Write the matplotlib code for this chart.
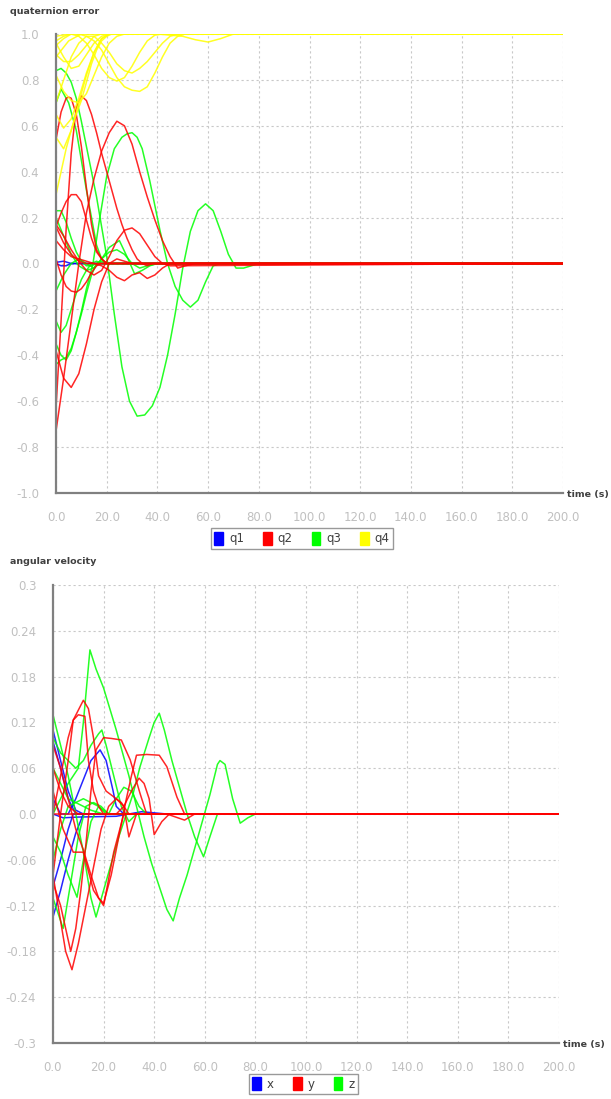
import matplotlib
matplotlib.use("Agg")
import matplotlib.pyplot as plt
from matplotlib.patches import Patch

# quaternion error runs: each curve is (times, values)
q1_t = [[0, 2, 4, 6, 200], [0, 3, 6, 200]]
q1_v = [[0.0, -0.01, -0.01, 0.0, 0.0], [0.005, 0.01, 0.0, 0.0]]

q2_t = [
    [0, 2, 4, 5, 6, 8, 10, 12, 14, 16, 18, 20, 200],
    [0, 2, 4, 6, 8, 10, 12, 14, 16, 18, 20, 22, 24, 26, 28, 30, 32, 34, 36, 38, 200],
    [0, 3, 6, 9, 12, 15, 18, 21, 24, 27, 30, 33, 36, 39, 42, 45, 48, 51, 55, 200],
    [0, 3, 6, 9, 12, 15, 18, 21, 24, 27, 30, 200],
    [0, 2, 4, 6, 8, 10, 12, 14, 16, 18, 20, 200],
    [0, 3, 6, 9, 12, 15, 18, 21, 24, 27, 30, 33, 36, 39, 42, 45, 200],
    [0, 2, 4, 6, 8, 10, 12, 14, 16, 18, 20, 200],
    [0, 3, 6, 9, 12, 15, 18, 21, 24, 27, 30, 33, 36, 39, 42, 45, 200],
    [0, 3, 6, 9, 12, 200],
]
q2_v = [
    [0.54, 0.66, 0.72, 0.725, 0.72, 0.65, 0.51, 0.33, 0.17, 0.06, 0.02, 0.0, 0.0],
    [-0.63, -0.25, 0.15, 0.48, 0.68, 0.73, 0.71, 0.65, 0.57, 0.48, 0.40, 0.32, 0.24, 0.17, 0.11, 0.06, 0.02, 0.0, -0.01, 0.0, 0.0],
    [-0.73, -0.50, -0.25, 0.0, 0.22, 0.37, 0.49, 0.57, 0.62, 0.60, 0.52, 0.40, 0.29, 0.19, 0.10, 0.03, -0.02, -0.01, 0.0, 0.0],
    [-0.38, -0.50, -0.54, -0.48, -0.35, -0.20, -0.08, 0.0, 0.02, 0.01, 0.0, 0.0],
    [0.16, 0.22, 0.27, 0.30, 0.30, 0.27, 0.19, 0.11, 0.05, 0.02, 0.0, 0.0],
    [0.17, 0.12, 0.06, 0.01, -0.03, -0.05, -0.03, 0.03, 0.10, 0.145, 0.155, 0.13, 0.08, 0.03, 0.0, -0.01, 0.0],
    [0.02, -0.05, -0.10, -0.12, -0.125, -0.11, -0.08, -0.04, -0.01, 0.0, 0.0, 0.0],
    [0.10, 0.06, 0.03, 0.02, 0.01, 0.0, -0.01, -0.03, -0.06, -0.075, -0.05, -0.04, -0.065, -0.05, -0.02, 0.0, 0.0],
    [0.16, 0.09, 0.04, 0.01, 0.0, 0.0],
]

q3_t = [
    [0, 2, 4, 6, 8, 10, 12, 14, 16, 18, 20, 23, 26, 29, 32, 35, 38, 41, 44, 47, 50, 53, 56, 59, 62, 65, 68, 71, 74, 77, 80, 200],
    [0, 2, 4, 6, 8, 10, 12, 14.6, 17, 20, 23, 26, 28, 30, 32, 34, 37, 41, 44, 47, 50, 53, 56, 59, 62, 65, 200],
    [0, 2, 3, 5, 8, 10, 12, 14, 16, 18, 20, 200],
    [0, 2, 4, 6, 8, 10, 12, 14, 16, 200],
    [0, 3, 6, 9, 12, 15, 18, 21, 24, 27, 30, 33, 36, 40, 200],
    [0, 3, 6, 9, 12, 15, 18, 21, 25, 28, 31, 34, 37, 40, 200],
    [0, 2, 4, 6, 8, 10, 12, 14, 16, 18, 200],
    [0, 2, 4, 6, 8, 10, 12, 14, 16, 18, 20, 200],
]
q3_v = [
    [0.84, 0.85, 0.83, 0.79, 0.72, 0.62, 0.51, 0.40, 0.29, 0.16, 0.03, -0.22, -0.45, -0.60, -0.665, -0.66, -0.62, -0.54, -0.40, -0.22, -0.02, 0.14, 0.23, 0.26, 0.23, 0.14, 0.04, -0.02, -0.02, -0.01, 0.0, 0.0],
    [-0.35, -0.40, -0.42, -0.38, -0.30, -0.21, -0.11, 0.0, 0.18, 0.38, 0.50, 0.55, 0.565, 0.57, 0.55, 0.50, 0.36, 0.145, 0.0, -0.10, -0.16, -0.19, -0.16, -0.08, -0.01, 0.0, 0.0],
    [0.70, 0.76, 0.74, 0.70, 0.58, 0.45, 0.32, 0.20, 0.08, 0.02, 0.0, 0.0],
    [0.23, 0.23, 0.18, 0.11, 0.05, 0.01, -0.01, -0.01, 0.0, 0.0],
    [0.20, 0.12, 0.04, -0.01, -0.03, -0.02, 0.02, 0.05, 0.06, 0.04, 0.0, -0.02, -0.01, 0.0, 0.0],
    [-0.12, -0.05, 0.0, 0.02, 0.0, -0.02, 0.02, 0.07, 0.10, 0.03, -0.045, -0.03, -0.01, 0.0, 0.0],
    [-0.25, -0.30, -0.27, -0.20, -0.13, -0.07, -0.03, 0.0, 0.01, 0.0, 0.0],
    [-0.44, -0.42, -0.41, -0.37, -0.30, -0.22, -0.13, -0.05, 0.0, 0.01, 0.0, 0.0],
]

q4_t = [
    [0, 5, 200],
    [0, 3, 6, 9, 12, 15, 18, 21, 24, 27, 30, 33, 36, 39, 42, 45, 48, 51, 200],
    [0, 3, 6, 9, 12, 15, 18, 21, 24, 27, 30, 33, 36, 39, 42, 200],
    [0, 3, 6, 9, 12, 15, 18, 21, 24, 27, 30, 33, 36, 39, 42, 45, 48, 200],
    [0, 3, 6, 9, 12, 15, 18, 200],
    [0, 3, 6, 9, 12, 15, 18, 21, 200],
    [0, 2, 4, 6, 8, 10, 12, 14, 16, 18, 20, 22, 200],
    [0, 3, 6, 9, 12, 15, 18, 21, 200],
    [0, 3, 6, 9, 12, 15, 18, 21, 200],
    [0, 3, 6, 9, 12, 15, 18, 21, 24, 27, 200],
    [0, 5, 10, 40, 50, 55, 60, 65, 70, 200],
]
q4_v = [
    [0.99, 1.0, 1.0],
    [0.97, 0.99, 1.0, 1.0, 0.99, 0.97, 0.93, 0.87, 0.81, 0.77, 0.755, 0.75, 0.77, 0.83, 0.90, 0.96, 0.99, 1.0, 1.0],
    [0.95, 0.98, 1.0, 0.99, 0.96, 0.91, 0.85, 0.81, 0.795, 0.81, 0.86, 0.92, 0.97, 0.995, 1.0, 1.0],
    [0.70, 0.80, 0.90, 0.96, 0.99, 0.99, 0.96, 0.92, 0.87, 0.84, 0.83, 0.85, 0.88, 0.92, 0.96, 0.99, 1.0, 1.0],
    [0.91, 0.88, 0.88, 0.91, 0.95, 0.99, 1.0, 1.0],
    [0.96, 0.90, 0.85, 0.86, 0.91, 0.96, 0.99, 1.0, 1.0],
    [0.30, 0.40, 0.50, 0.58, 0.65, 0.71, 0.79, 0.87, 0.93, 0.97, 0.99, 1.0, 1.0],
    [0.55, 0.50, 0.58, 0.70, 0.82, 0.92, 0.98, 1.0, 1.0],
    [0.65, 0.59, 0.63, 0.72, 0.83, 0.92, 0.98, 1.0, 1.0],
    [0.82, 0.75, 0.71, 0.70, 0.74, 0.82, 0.90, 0.96, 0.99, 1.0, 1.0],
    [0.90, 0.97, 1.0, 1.0, 0.99, 0.975, 0.965, 0.98, 1.0, 1.0],
]

# angular velocity runs
x_t = [
    [0, 3, 6, 9, 12, 200],
    [0, 3, 6, 9, 200],
    [0, 3, 6, 9, 12, 200],
    [0, 3, 6, 8, 200],
    [0, 3, 6, 9, 12, 15, 18.6, 21, 23.7, 25, 28, 200],
    [0, 4, 10, 25, 35, 45, 200],
]
x_v = [
    [0.11, 0.07, 0.03, 0.005, 0.0, 0.0],
    [0.095, 0.06, 0.02, 0.0, 0.0],
    [-0.135, -0.10, -0.06, -0.025, 0.0, 0.0],
    [-0.095, -0.06, -0.02, 0.0, 0.0],
    [0.02, 0.0, 0.0, 0.02, 0.045, 0.07, 0.084, 0.07, 0.031, 0.01, 0.0, 0.0],
    [0.0, -0.005, -0.004, -0.003, 0.003, 0.0, 0.0],
]

y_t = [
    [0, 3, 6, 8, 12, 14, 16, 18, 21, 23, 25, 27, 30, 200],
    [0, 3, 6, 8, 10, 12.6, 14, 16, 18, 20, 200],
    [0, 3, 5, 7, 9, 11, 13, 15, 17, 20, 23, 27, 30.5, 34.4, 37, 200],
    [0, 3, 6, 9, 12, 15, 18, 20, 23, 26, 29, 31, 33, 37, 42, 45, 49, 52, 200],
    [0, 3, 5, 7.5, 10, 13, 16, 19, 22, 25, 28, 30, 33, 36, 200],
    [0, 3, 6, 10, 20, 25, 28, 31, 34, 36, 38, 40, 43, 46, 200],
    [0, 4, 8, 12, 16, 20, 24, 28, 200],
    [0, 45, 52, 56, 200],
]
y_v = [
    [-0.08, 0.0, 0.07, 0.123, 0.149, 0.138, 0.10, 0.05, 0.03, 0.025, 0.02, 0.015, 0.0, 0.0],
    [0.0, 0.05, 0.10, 0.123, 0.13, 0.128, 0.07, 0.03, 0.01, 0.0, 0.0],
    [-0.09, -0.12, -0.15, -0.18, -0.15, -0.10, -0.04, 0.03, 0.084, 0.10, 0.099, 0.097, 0.071, 0.027, 0.0, 0.0],
    [0.09, 0.06, 0.02, -0.02, -0.047, -0.08, -0.11, -0.117, -0.08, -0.03, 0.02, 0.05, 0.077, 0.078, 0.077, 0.062, 0.022, 0.0, 0.0],
    [-0.08, -0.14, -0.18, -0.204, -0.17, -0.12, -0.07, -0.02, 0.01, 0.02, 0.01, -0.03, 0.0, 0.0, 0.0],
    [0.06, 0.03, 0.01, 0.0, 0.0, 0.0, 0.01, 0.03, 0.047, 0.04, 0.02, -0.027, -0.01, 0.0, 0.0],
    [0.03, -0.02, -0.05, -0.05, -0.10, -0.12, -0.05, 0.0, 0.0],
    [0.0, 0.0, -0.008, 0.0, 0.0],
]

z_t = [
    [0, 3, 6, 10, 12, 14.6, 17, 20, 25, 30, 33, 36, 39, 42, 45, 47.5, 50, 53, 56, 59, 62, 65, 66, 68, 71, 74, 77, 80, 200],
    [0, 3, 6, 9, 12, 15, 17, 20, 23, 26, 29, 31.7, 34.4, 38, 40, 42, 44, 47, 50, 53, 56, 59.5, 62, 65, 200],
    [0, 3, 6, 9, 12, 15, 18, 19.3, 21, 24, 27, 30, 33, 200],
    [0, 2, 4, 7, 10, 13, 16, 19, 22, 200],
    [0, 3, 6, 9.5, 12, 15, 18, 21, 200],
    [0, 3, 6, 9, 12, 15, 18, 22, 25, 28, 31, 34, 37, 200],
    [0, 3, 6, 9, 12, 15, 20, 200],
]
z_v = [
    [0.0, 0.02, 0.04, 0.06, 0.12, 0.215, 0.19, 0.165, 0.11, 0.05, 0.01, -0.03, -0.065, -0.095, -0.125, -0.14, -0.11, -0.08, -0.045, -0.01, 0.025, 0.065, 0.07, 0.065, 0.02, -0.012, -0.005, 0.0, 0.0],
    [0.13, 0.09, 0.05, 0.0, -0.05, -0.11, -0.135, -0.10, -0.065, -0.03, 0.0, 0.027, 0.062, 0.10, 0.12, 0.132, 0.11, 0.07, 0.035, 0.0, -0.03, -0.056, -0.03, 0.0, 0.0],
    [0.10, 0.08, 0.07, 0.06, 0.07, 0.09, 0.105, 0.11, 0.09, 0.05, 0.01, -0.01, 0.0, 0.0],
    [-0.11, -0.13, -0.15, -0.09, -0.03, 0.01, 0.015, 0.01, 0.0, 0.0],
    [-0.03, -0.05, -0.08, -0.109, -0.06, -0.01, 0.01, 0.0, 0.0],
    [0.06, 0.04, 0.02, 0.015, 0.02, 0.015, 0.01, 0.0, 0.02, 0.035, 0.03, 0.01, 0.0, 0.0],
    [-0.06, -0.02, 0.01, 0.015, 0.01, 0.005, 0.0, 0.0],
]

x_ticks = [0, 20, 40, 60, 80, 100, 120, 140, 160, 180, 200]
q_ticks = [-1.0, -0.8, -0.6, -0.4, -0.2, 0.0, 0.2, 0.4, 0.6, 0.8, 1.0]
q_tick_labels = ["-1.0", "-0.8", "-0.6", "-0.4", "-0.2", "0.0", "0.2", "0.4", "0.6", "0.8", "1.0"]
w_ticks = [-0.3, -0.24, -0.18, -0.12, -0.06, 0.0, 0.06, 0.12, 0.18, 0.24, 0.3]
w_tick_labels = ["-0.3", "-0.24", "-0.18", "-0.12", "-0.06", "0.0", "0.06", "0.12", "0.18", "0.24", "0.3"]
q_labels = ["q1", "q2", "q3", "q4"]
w_labels = ["x", "y", "z"]

BLUE, RED, GREEN, YELLOW = "#0000ff", "#ff0000", "#00ff00", "#ffff00"
TICK_GREY = "#c0c0c0"

fig = plt.figure(figsize=(6.11, 10.99), dpi=100)
ax1 = fig.add_axes([56 / 611, 1 - 493 / 1099, 507 / 611, 459 / 1099])
ax2 = fig.add_axes([53 / 611, 1 - 1043 / 1099, 506 / 611, 458 / 1099])


def style_axis(ax, yticks, ylabels, ylim):
    ax.set_xlim(0, 200)
    ax.set_ylim(*ylim)
    ax.set_xticks(x_ticks)
    ax.set_xticklabels(["%.1f" % v for v in x_ticks])
    ax.set_yticks(yticks)
    ax.set_yticklabels(ylabels)
    ax.tick_params(length=0, labelsize=8.5, labelcolor=TICK_GREY)
    ax.tick_params(axis="x", pad=13)
    ax.tick_params(axis="y", pad=12)
    ax.grid(True, linestyle=(0, (2, 2.5)), color="#c8c8c8", linewidth=0.8)
    ax.set_axisbelow(True)
    for s in ["top", "right"]:
        ax.spines[s].set_visible(False)
    for s in ["left", "bottom"]:
        ax.spines[s].set_color("#808080")
        ax.spines[s].set_linewidth(1.6)


def draw(ax, ts, vs, color):
    for t, v in zip(ts, vs):
        ax.plot(t, v, color=color, lw=1.1, alpha=0.85, solid_joinstyle="round")


# top panel
draw(ax1, q1_t, q1_v, BLUE)
draw(ax1, q3_t, q3_v, GREEN)
draw(ax1, q2_t, q2_v, RED)
draw(ax1, q4_t, q4_v, YELLOW)
style_axis(ax1, q_ticks, q_tick_labels, (-1.0, 1.0))

# bottom panel
draw(ax2, x_t, x_v, BLUE)
draw(ax2, z_t, z_v, GREEN)
draw(ax2, y_t, y_v, RED)
style_axis(ax2, w_ticks, w_tick_labels, (-0.3, 0.3))

title_kw = dict(fontsize=6.8, color="#404040", fontweight="bold", ha="left", va="center")
fig.text(10 / 611, 1 - 12 / 1099, "quaternion error", **title_kw)
fig.text(10 / 611, 1 - 562 / 1099, "angular velocity", **title_kw)
fig.text(567 / 611, 1 - 495 / 1099, "time (s)", **title_kw)
fig.text(563 / 611, 1 - 1045 / 1099, "time (s)", **title_kw)

leg_kw = dict(loc="center", ncol=4, fontsize=8.5, frameon=True, fancybox=False,
              handlelength=0.75, handleheight=1.3, handletextpad=0.5, columnspacing=1.6,
              borderpad=0.3, labelcolor="#404040")
h1 = [Patch(color=c) for c in [BLUE, RED, GREEN, YELLOW]]
l1 = fig.legend(h1, q_labels, bbox_to_anchor=(302 / 611, 1 - 538.5 / 1099), **leg_kw)
h2 = [Patch(color=c) for c in [BLUE, RED, GREEN]]
l2 = fig.legend(h2, w_labels, bbox_to_anchor=(303.5 / 611, 1 - 1084 / 1099), **leg_kw)
for lg in (l1, l2):
    lg.get_frame().set_edgecolor("#808080")
    lg.get_frame().set_linewidth(1.0)

fig.savefig("out.png", dpi=100)
